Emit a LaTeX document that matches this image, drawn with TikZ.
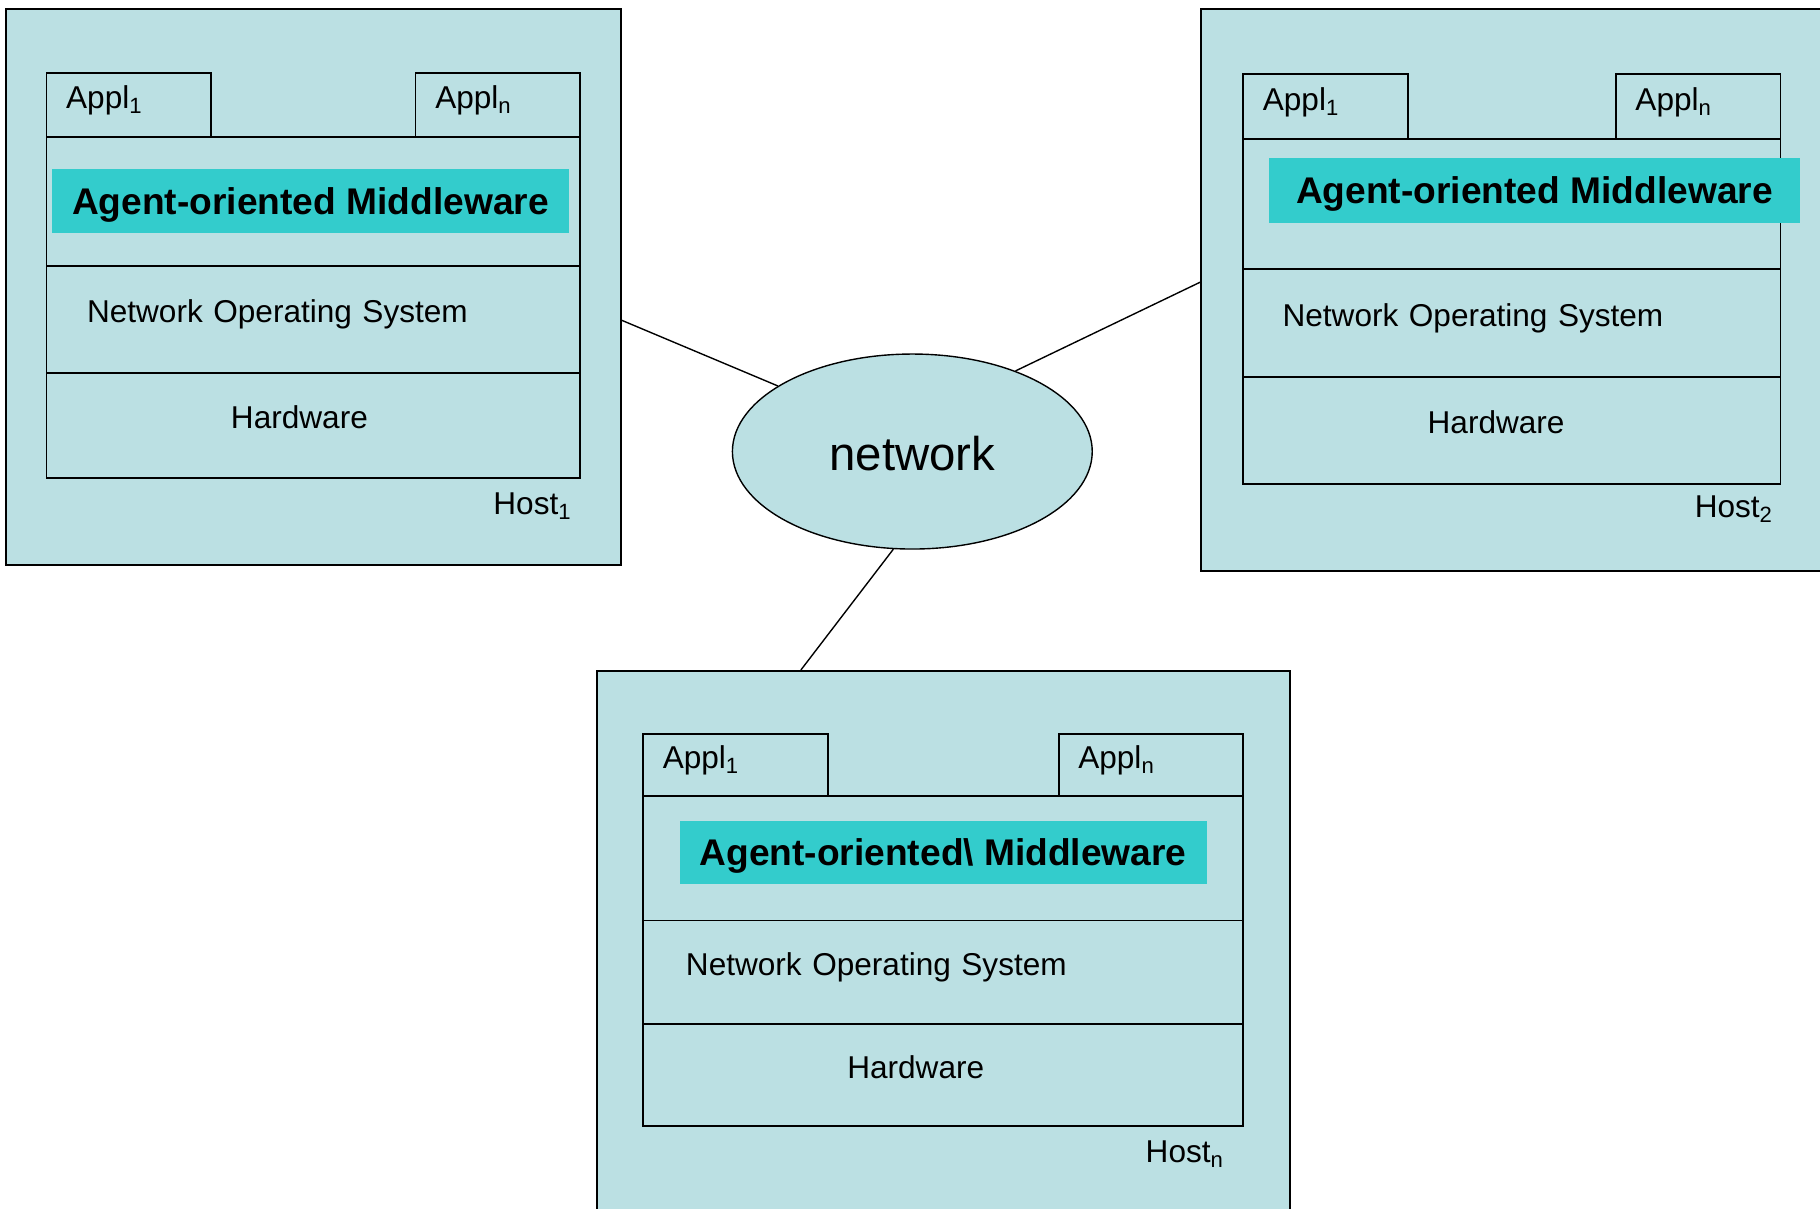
\documentclass[tikz,border=0pt]{standalone}
\usepackage{fontspec}
\setmainfont{Liberation Sans}
\usetikzlibrary{positioning,shapes.geometric}

\definecolor{hostfill}{RGB}{187,224,227}
\definecolor{agentfill}{RGB}{51,204,204}

\begin{document}
\begin{tikzpicture}[
    x=0.5pt, y=-0.5pt,
    node distance=0pt,
    host/.style={draw, line width=0.8pt, fill=hostfill, inner sep=0pt},
    layer/.style={draw, line width=0.8pt, fill=hostfill, inner sep=0pt, outer sep=0pt, align=left, text depth=7pt, font=\fontsize{13.6}{16}\selectfont},
    appl/.style={layer, inner xsep=8.5pt},
    agent/.style={fill=agentfill, inner sep=0pt, text height=14.5pt, font=\bfseries\fontsize{16}{19}\selectfont},
    hostname/.style={inner sep=0pt, font=\fontsize{13.6}{16}\selectfont},
    link/.style={line width=0.6pt}
  ]
    \useasboundingbox (0,0) rectangle (1568,1041);

    % host 1
    \node[host, minimum width=265pt, minimum height=239.5pt] (host1) at (270,247.5) {};
    \node[layer, minimum width=230pt, minimum height=55.5pt] (mw1) at (270,173.5) {};
    \node[agent, minimum width=222.5pt, minimum height=27.5pt] (agent1) at ([xshift=-1.25pt]mw1.center) {Agent-oriented Middleware};
    \node[layer, below=of mw1, minimum height=46pt, text width=195pt, inner xsep=17.5pt] (nos1) {Network Operating System};
    \node[layer, below=of nos1, minimum height=45.5pt, text width=71pt, inner xsep=79.5pt] (hw1) {Hardware};
    \node[appl, above right=of mw1.north west, minimum height=27.5pt, text width=54pt] (app1a) {Appl\textsubscript{1}};
    \node[appl, above left=of mw1.north east, minimum height=27.5pt, text width=54pt] (app1n) {Appl\textsubscript{n}};
    \node[hostname, below left=6pt and 3.5pt of hw1.south east] (name1) {Host\textsubscript{1}};

    % host 2
    \node[host, minimum width=267.5pt, minimum height=242pt] (host2) at (1302.5,250) {};
    \node[layer, minimum width=231.5pt, minimum height=56pt] (mw2) at (1302.5,176) {};
    \node[agent, minimum width=229pt, minimum height=28pt] (agent2) at ([xshift=9.75pt, yshift=6pt]mw2.center) {Agent-oriented Middleware};
    \node[layer, below=of mw2, minimum height=46.5pt, text width=197.5pt, inner xsep=17pt] (nos2) {Network Operating System};
    \node[layer, below=of nos2, minimum height=46pt, text width=72.5pt, inner xsep=79.5pt] (hw2) {Hardware};
    \node[appl, above right=of mw2.north west, minimum height=28pt, text width=54pt] (app2a) {Appl\textsubscript{1}};
    \node[appl, above left=of mw2.north east, minimum height=28pt, text width=54pt] (app2n) {Appl\textsubscript{n}};
    \node[hostname, below left=5pt and 3pt of hw2.south east] (name2) {Host\textsubscript{2}};

    % host n
    \node[host, minimum width=298.5pt, minimum height=233.5pt] (hostn) at (812.5,811.5) {};
    \node[layer, minimum width=258.5pt, minimum height=53.5pt] (mwn) at (812.5,739.5) {};
    \node[agent, minimum width=227pt, minimum height=27.5pt] (agentn) at ([yshift=2.5pt]mwn.center) {Agent-oriented\textbackslash{} Middleware};
    \node[layer, below=of mwn, minimum height=44.5pt, text width=221.5pt, inner xsep=18.5pt] (nosn) {Network Operating System};
    \node[layer, below=of nosn, minimum height=44pt, text width=82.5pt, inner xsep=88pt] (hwn) {Hardware};
    \node[appl, above right=of mwn.north west, minimum height=27pt, text width=62.5pt] (appna) {Appl\textsubscript{1}};
    \node[appl, above left=of mwn.north east, minimum height=27pt, text width=62.5pt] (appnn) {Appl\textsubscript{n}};
    \node[hostname, below left=6pt and 8pt of hwn.south east] (namen) {Host\textsubscript{n}};

    % the network in the middle
    \node[ellipse, draw, line width=0.6pt, fill=hostfill, minimum width=155pt, minimum height=84pt, inner sep=0pt, text height=16.5pt, font=\fontsize{20.4}{24}\selectfont] (net) at (786,389) {network};

    \draw[link] ([yshift=-14.25pt]host1.east) -- (net.154);
    \draw[link] ([yshift=3.5pt]host2.west) -- (net.38);
    \draw[link] ([xshift=-61.25pt]hostn.north) -- (net.-101);
\end{tikzpicture}
\end{document}
